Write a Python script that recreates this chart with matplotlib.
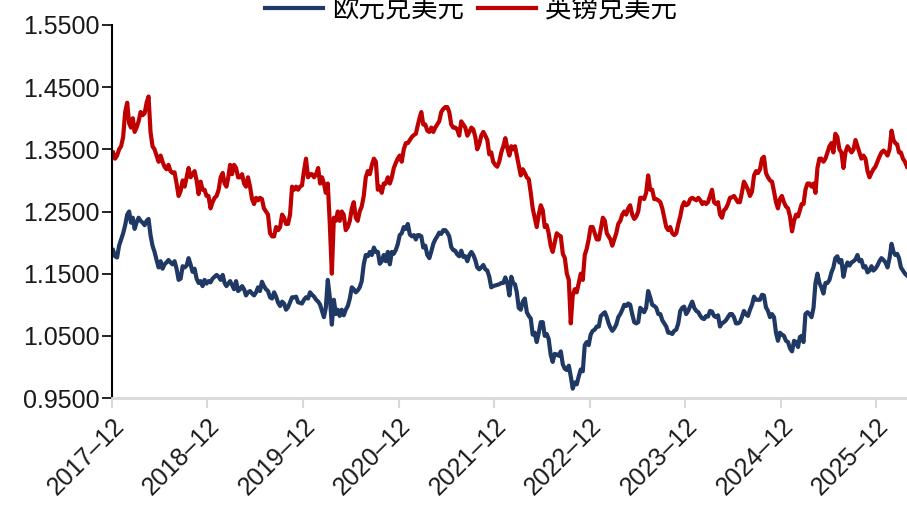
import matplotlib
matplotlib.use("Agg")
import matplotlib.pyplot as plt
import pandas as pd

# ---- data: weekly-ish readings, one list per month (2017-12 .. 2026-03) ----
start_month = "2017-12"
end_month = "2026-03"

eur_usd = [
    [1.188, 1.178, 1.176, 1.195],  # 2017-12
    [1.205, 1.215, 1.228, 1.245], [1.250, 1.232, 1.240, 1.222], [1.232, 1.240, 1.235, 1.232],
    [1.228, 1.235, 1.238, 1.212], [1.195, 1.185, 1.172, 1.160], [1.170, 1.158, 1.165, 1.168],
    [1.172, 1.168, 1.165, 1.170], [1.158, 1.140, 1.142, 1.162], [1.160, 1.163, 1.175, 1.165],
    [1.153, 1.158, 1.142, 1.135], [1.138, 1.130, 1.140, 1.134], [1.138, 1.136, 1.142, 1.145],
    [1.148, 1.145, 1.140, 1.148], [1.135, 1.130, 1.134, 1.138], [1.132, 1.125, 1.138, 1.122],
    [1.125, 1.130, 1.125, 1.115], [1.120, 1.122, 1.118, 1.115], [1.120, 1.128, 1.122, 1.137],
    [1.130, 1.125, 1.122, 1.112], [1.110, 1.120, 1.113, 1.103], [1.098, 1.105, 1.102, 1.092],
    [1.096, 1.104, 1.112, 1.112], [1.113, 1.104, 1.103, 1.102], [1.108, 1.112, 1.110, 1.120],
    [1.116, 1.113, 1.108, 1.105], [1.100, 1.090, 1.080, 1.095], [1.140, 1.112, 1.068, 1.108],
    [1.085, 1.092, 1.082, 1.092], [1.083, 1.092, 1.098, 1.110], [1.128, 1.125, 1.120, 1.123],
    [1.128, 1.138, 1.165, 1.180], [1.178, 1.185, 1.180, 1.192], [1.185, 1.185, 1.166, 1.170],
    [1.180, 1.170, 1.185, 1.165], [1.185, 1.182, 1.188, 1.197], [1.212, 1.215, 1.225, 1.222],
    [1.230, 1.213, 1.210, 1.212], [1.205, 1.212, 1.212, 1.210], [1.192, 1.195, 1.180, 1.175],
    [1.186, 1.198, 1.205, 1.210], [1.216, 1.214, 1.220, 1.220], [1.216, 1.210, 1.193, 1.188],
    [1.187, 1.181, 1.178, 1.187], [1.177, 1.178, 1.170, 1.180], [1.185, 1.180, 1.172, 1.160],
    [1.157, 1.160, 1.164, 1.157], [1.155, 1.145, 1.128, 1.130], [1.131, 1.132, 1.133, 1.135],
    [1.135, 1.144, 1.135, 1.115], [1.145, 1.135, 1.133, 1.120], [1.095, 1.092, 1.105, 1.110],
    [1.088, 1.082, 1.078, 1.052], [1.055, 1.040, 1.055, 1.072], [1.072, 1.050, 1.053, 1.045],
    [1.020, 1.008, 1.021, 1.020], [1.018, 1.025, 1.004, 0.997], [0.995, 1.002, 0.985, 0.965],
    [0.975, 0.972, 0.985, 0.996], [0.993, 1.035, 1.040, 1.035], [1.052, 1.058, 1.060, 1.065],
    [1.065, 1.082, 1.085, 1.088], [1.080, 1.070, 1.063, 1.058], [1.062, 1.068, 1.080, 1.085],
    [1.092, 1.100, 1.098, 1.102], [1.100, 1.085, 1.072, 1.070], [1.072, 1.095, 1.092, 1.088],
    [1.095, 1.122, 1.112, 1.100], [1.098, 1.095, 1.085, 1.085], [1.075, 1.070, 1.065, 1.055],
    [1.055, 1.053, 1.058, 1.060], [1.070, 1.090, 1.095, 1.097], [1.085, 1.090, 1.098, 1.105],
    [1.095, 1.090, 1.088, 1.082], [1.078, 1.077, 1.082, 1.081], [1.090, 1.089, 1.082, 1.080],
    [1.083, 1.065, 1.070, 1.072], [1.075, 1.080, 1.085, 1.085], [1.080, 1.070, 1.070, 1.072],
    [1.080, 1.090, 1.085, 1.082], [1.092, 1.100, 1.113, 1.108], [1.108, 1.108, 1.116, 1.115],
    [1.096, 1.090, 1.080, 1.085], [1.080, 1.055, 1.042, 1.055], [1.052, 1.050, 1.042, 1.040],
    [1.030, 1.025, 1.042, 1.040], [1.032, 1.048, 1.050, 1.040], [1.085, 1.088, 1.085, 1.080],
    [1.095, 1.135, 1.150, 1.135], [1.128, 1.118, 1.135, 1.135], [1.140, 1.152, 1.160, 1.175],
    [1.178, 1.168, 1.172, 1.145], [1.160, 1.168, 1.163, 1.168], [1.170, 1.173, 1.180, 1.170],
    [1.172, 1.160, 1.162, 1.152], [1.155, 1.162, 1.155, 1.158], [1.163, 1.170, 1.175, 1.172],
    [1.168, 1.160, 1.175, 1.198], [1.185, 1.180, 1.182, 1.175], [1.160, 1.155, 1.150, 1.147],
]

gbp_usd = [
    [1.345, 1.335, 1.340, 1.350],  # 2017-12
    [1.355, 1.370, 1.410, 1.425], [1.392, 1.385, 1.400, 1.378], [1.385, 1.395, 1.410, 1.405],
    [1.408, 1.425, 1.435, 1.378], [1.355, 1.350, 1.340, 1.330], [1.340, 1.330, 1.322, 1.318],
    [1.325, 1.315, 1.312, 1.313], [1.295, 1.275, 1.283, 1.300], [1.290, 1.305, 1.320, 1.305],
    [1.310, 1.315, 1.300, 1.278], [1.298, 1.285, 1.285, 1.275], [1.275, 1.255, 1.265, 1.272],
    [1.275, 1.285, 1.305, 1.312], [1.295, 1.290, 1.305, 1.325], [1.310, 1.325, 1.320, 1.305],
    [1.305, 1.310, 1.295, 1.290], [1.305, 1.290, 1.270, 1.262], [1.272, 1.268, 1.272, 1.270],
    [1.255, 1.250, 1.245, 1.215], [1.210, 1.210, 1.225, 1.220], [1.225, 1.245, 1.240, 1.230],
    [1.230, 1.245, 1.290, 1.285], [1.290, 1.285, 1.290, 1.292], [1.315, 1.335, 1.305, 1.310],
    [1.310, 1.305, 1.310, 1.320], [1.295, 1.305, 1.295, 1.280], [1.295, 1.230, 1.150, 1.240],
    [1.235, 1.250, 1.235, 1.250], [1.245, 1.220, 1.225, 1.235], [1.255, 1.265, 1.240, 1.235],
    [1.250, 1.258, 1.275, 1.305], [1.315, 1.310, 1.325, 1.335], [1.330, 1.285, 1.290, 1.280],
    [1.295, 1.295, 1.305, 1.295], [1.305, 1.320, 1.328, 1.335], [1.340, 1.330, 1.350, 1.360],
    [1.360, 1.365, 1.370, 1.373], [1.375, 1.388, 1.400, 1.410], [1.390, 1.390, 1.380, 1.378],
    [1.385, 1.378, 1.385, 1.390], [1.395, 1.410, 1.415, 1.418], [1.418, 1.410, 1.390, 1.385],
    [1.385, 1.382, 1.372, 1.395], [1.390, 1.385, 1.372, 1.378], [1.385, 1.382, 1.370, 1.350],
    [1.358, 1.372, 1.378, 1.372], [1.365, 1.342, 1.345, 1.330], [1.325, 1.322, 1.330, 1.345],
    [1.355, 1.368, 1.352, 1.340], [1.355, 1.350, 1.355, 1.340], [1.325, 1.308, 1.318, 1.312],
    [1.305, 1.302, 1.280, 1.255], [1.240, 1.225, 1.245, 1.260], [1.252, 1.225, 1.228, 1.215],
    [1.195, 1.185, 1.200, 1.215], [1.212, 1.210, 1.182, 1.175], [1.150, 1.140, 1.070, 1.115],
    [1.125, 1.120, 1.135, 1.150], [1.140, 1.180, 1.190, 1.205], [1.225, 1.225, 1.215, 1.205],
    [1.205, 1.222, 1.240, 1.235], [1.215, 1.210, 1.205, 1.195], [1.205, 1.215, 1.230, 1.235],
    [1.245, 1.250, 1.245, 1.255], [1.260, 1.245, 1.238, 1.242], [1.250, 1.272, 1.272, 1.270],
    [1.280, 1.308, 1.285, 1.285], [1.270, 1.270, 1.268, 1.265], [1.255, 1.240, 1.225, 1.220],
    [1.225, 1.215, 1.212, 1.215], [1.230, 1.242, 1.258, 1.265], [1.260, 1.262, 1.270, 1.272],
    [1.270, 1.268, 1.272, 1.268], [1.262, 1.265, 1.262, 1.265], [1.275, 1.285, 1.265, 1.262],
    [1.265, 1.245, 1.240, 1.252], [1.255, 1.262, 1.272, 1.273], [1.275, 1.270, 1.265, 1.265],
    [1.280, 1.298, 1.292, 1.285], [1.275, 1.282, 1.308, 1.315], [1.312, 1.318, 1.335, 1.338],
    [1.312, 1.305, 1.300, 1.298], [1.282, 1.265, 1.255, 1.270], [1.275, 1.265, 1.258, 1.255],
    [1.242, 1.218, 1.235, 1.245], [1.242, 1.252, 1.262, 1.262], [1.285, 1.295, 1.295, 1.290],
    [1.295, 1.280, 1.320, 1.335], [1.335, 1.330, 1.335, 1.345], [1.355, 1.360, 1.345, 1.375],
    [1.370, 1.350, 1.345, 1.320], [1.345, 1.355, 1.350, 1.345], [1.350, 1.365, 1.355, 1.345],
    [1.335, 1.340, 1.335, 1.315], [1.305, 1.312, 1.318, 1.322], [1.330, 1.338, 1.345, 1.348],
    [1.345, 1.340, 1.350, 1.380], [1.365, 1.360, 1.358, 1.345], [1.345, 1.335, 1.330, 1.322],
]

series_names = ["欧元兑美元", "英镑兑美元"]
y_ticks = [0.95, 1.05, 1.15, 1.25, 1.35, 1.45, 1.55]
x_tick_labels = ["2017–12", "2018–12", "2019–12", "2020–12", "2021–12",
                 "2022–12", "2023–12", "2024–12", "2025–12"]

# ---- build date index: readings spread across each month ----
months = pd.period_range(start_month, end_month, freq="M")
assert len(months) == len(eur_usd) == len(gbp_usd)


def expand(monthly):
    dates, vals = [], []
    for m, vs in zip(months, monthly):
        s = m.start_time
        n_days = m.days_in_month
        k = len(vs)
        for i, v in enumerate(vs):
            dates.append(s + pd.Timedelta(days=(i + 0.5) / k * n_days))
            vals.append(v)
    return dates, vals


eur_d, eur_v = expand(eur_usd)
gbp_d, gbp_v = expand(gbp_usd)

# ---- figure ----
W, H = 907, 513
fig = plt.figure(figsize=(W / 100, H / 100), dpi=100)
ax = fig.add_axes([112 / W, 1 - 398 / H, (907 - 112) / W, (398 - 25) / H])

blue = "#1f3864"
red = "#c00000"
ax.plot(eur_d, eur_v, color=blue, lw=3.0, label=series_names[0], solid_joinstyle="round")
ax.plot(gbp_d, gbp_v, color=red, lw=3.0, label=series_names[1], solid_joinstyle="round")

tick_font = ["Liberation Sans", "DejaVu Sans"]
ax.set_ylim(0.95, 1.55)
ax.set_yticks(y_ticks)
ax.set_yticklabels([f"{v:.4f}" for v in y_ticks], fontsize=18, family=tick_font, color="#1a1a1a")

tick_dates = [pd.Timestamp(f"{2017 + i}-12-01") for i in range(len(x_tick_labels))]
ax.set_xlim(pd.Timestamp(f"{start_month}-01"), eur_d[-1])
ax.set_xticks(tick_dates)
ax.set_xticklabels(x_tick_labels, rotation=45, ha="right", rotation_mode="anchor",
                   fontsize=18, family=tick_font, color="#1a1a1a")

for s in ["top", "right"]:
    ax.spines[s].set_visible(False)
ax.spines["left"].set_color("black")
ax.spines["left"].set_linewidth(1.5)
ax.spines["bottom"].set_color("#d9d9d9")
ax.spines["bottom"].set_linewidth(2)
ax.tick_params(axis="y", direction="out", length=7, width=1.2, color="black", pad=2)
ax.tick_params(axis="x", direction="out", length=7, width=1.5, color="#d9d9d9", pad=4)

fig.legend(loc="center", bbox_to_anchor=(471 / W, 1 - 10 / H), ncol=2, frameon=False,
           prop={"family": ["Noto Sans CJK SC", "DejaVu Sans"], "size": 19},
           handlelength=2.2, handletextpad=0.35, columnspacing=0.5, borderpad=0)

fig.savefig("out.png", dpi=100)
